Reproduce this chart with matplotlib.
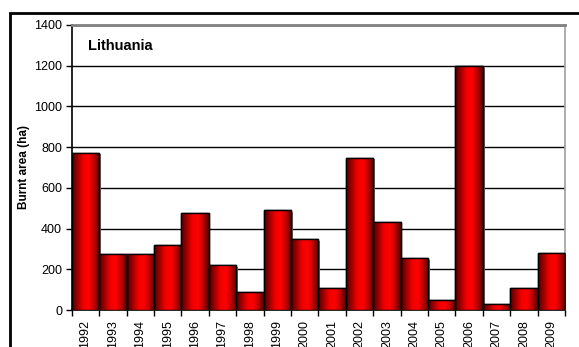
import numpy as np
import matplotlib
matplotlib.use("Agg")
import matplotlib.pyplot as plt
from matplotlib.colors import LinearSegmentedColormap
from matplotlib.patches import Rectangle

years = ["1992", "1993", "1994", "1995", "1996", "1997", "1998", "1999", "2000",
         "2001", "2002", "2003", "2004", "2005", "2006", "2007", "2008", "2009"]
burnt = [772, 275, 275, 319, 478, 221, 87, 491, 347,
         110, 748, 431, 254, 49, 1199, 29, 110, 281]
yticks = [0, 200, 400, 600, 800, 1000, 1200, 1400]

plt.rcParams['font.family'] = ['Liberation Sans', 'DejaVu Sans']

fig = plt.figure(figsize=(5.79, 3.47), dpi=100)
ax = fig.add_axes([0.124, 0.1066, 0.852, 0.8214])

# outer frame of the chart
fig.patches.append(Rectangle((10 / 579, -0.1), 1.2, 1 - 12.5 / 347 + 0.1,
                             transform=fig.transFigure, fill=False,
                             edgecolor='black', linewidth=2, zorder=0))

x = np.arange(len(years))
bars = ax.bar(x, burnt, width=1.0, color='#cc0000', edgecolor='black',
              linewidth=1.0, zorder=3)

# cylinder-like shading
shade = LinearSegmentedColormap.from_list(
    'shade', ['#500000', '#a00000', '#f00000', '#ff0000', '#c00000', '#500000'])
grad = np.linspace(0, 1, 64).reshape(1, -1)
for b in bars:
    x0, w, h = b.get_x(), b.get_width(), b.get_height()
    # shadow
    ax.add_patch(Rectangle((x0 + 0.06, 0), w, h - 8, facecolor='#7a7a7a',
                           edgecolor='none', zorder=2))
    im = ax.imshow(grad, cmap=shade, aspect='auto', extent=(x0, x0 + w, 0, h),
                   zorder=3.5)
    im.set_clip_path(b)
    ax.add_patch(Rectangle((x0, 0), w, h, fill=False, edgecolor='black',
                           linewidth=1.0, zorder=4))

ax.set_xlim(-0.5, len(years) - 0.5)
ax.set_ylim(0, 1400)
ax.set_yticks(yticks)
ax.set_yticklabels([str(v) for v in yticks], fontsize=9)
ax.yaxis.grid(True, color='black', linewidth=1.0, zorder=1)
ax.set_axisbelow(True)

ax.set_xticks(np.arange(len(years) + 1) - 0.5)
ax.set_xticklabels([])
ax.set_xticks(x, minor=True)
ax.set_xticklabels(years, minor=True, rotation=90, fontsize=9)
ax.tick_params(axis='x', which='minor', length=0, pad=7)
ax.tick_params(axis='x', which='major', direction='out', length=4, width=1)
ax.tick_params(axis='y', direction='out', length=4, width=1, pad=3)

ax.spines['left'].set_linewidth(1.2)
ax.spines['bottom'].set_linewidth(1.2)
ax.spines['top'].set_color('#808080')
ax.spines['top'].set_linewidth(2)
ax.spines['right'].set_color('#a0a0a0')
ax.spines['right'].set_linewidth(1.2)

ax.set_ylabel('Burnt area (ha)', fontsize=8.5, fontweight='bold', labelpad=3)
ax.text(0.033, 0.95, 'Lithuania', transform=ax.transAxes, fontsize=10.5,
        fontweight='bold', va='top', ha='left')

fig.savefig('out.png', dpi=100)
